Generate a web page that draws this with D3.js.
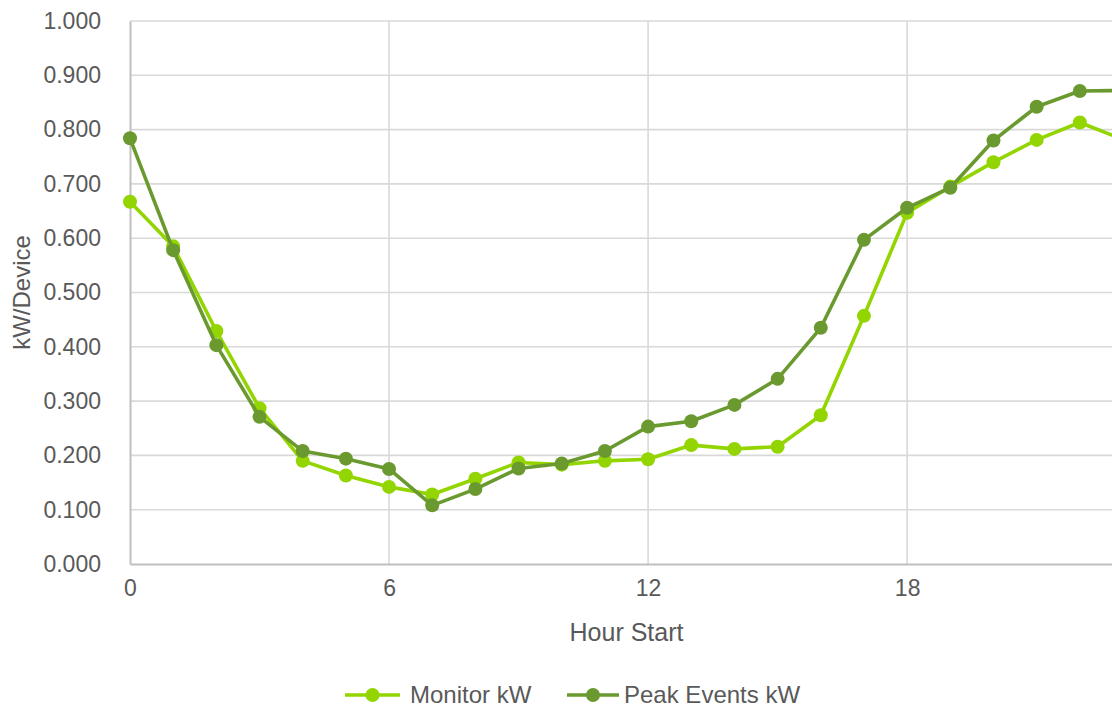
<!DOCTYPE html>
<html>
<head>
<meta charset="utf-8">
<script src="https://cdn.jsdelivr.net/npm/d3@7"></script>
<style>
  html, body { margin: 0; padding: 0; background: #fff; overflow: hidden; }
  svg { display: block; font-family: "Liberation Sans", Arial, sans-serif; }
</style>
</head>
<body>
<svg id="chart" width="1112" height="708"></svg>
<script>
// Hourly average demand per device (kW), hour start 0..23
const hours = d3.range(0, 24);
const monitorKW = [0.667, 0.585, 0.429, 0.287, 0.190, 0.163, 0.142, 0.128, 0.157, 0.187,
                   0.183, 0.190, 0.193, 0.219, 0.212, 0.216, 0.274, 0.457, 0.647, 0.695,
                   0.740, 0.781, 0.813, 0.782];
const peakEventsKW = [0.784, 0.578, 0.403, 0.271, 0.208, 0.194, 0.175, 0.108, 0.138, 0.176,
                      0.185, 0.208, 0.253, 0.263, 0.293, 0.341, 0.435, 0.597, 0.656, 0.693,
                      0.780, 0.842, 0.871, 0.872];
const xTickValues = [0, 6, 12, 18];
const yTickValues = d3.range(0, 1.0001, 0.1);
const seriesNames = ["Monitor kW", "Peak Events kW"];
const seriesColors = ["#93D500", "#6A9A2F"];

const svg = d3.select("#chart");
const plotLeft = 130, plotRight = 1123, plotTop = 21, plotBottom = 564;

const x = d3.scaleLinear().domain([0, 23]).range([plotLeft, plotRight]);
const y = d3.scaleLinear().domain([0, 1]).range([plotBottom, plotTop]);

const textColor = "#595959";

// horizontal gridlines
svg.append("g")
  .selectAll("line")
  .data(yTickValues.filter(v => v > 0.0001))
  .join("line")
  .attr("x1", plotLeft).attr("x2", plotRight)
  .attr("y1", d => y(d)).attr("y2", d => y(d))
  .attr("stroke", "#D9D9D9").attr("stroke-width", 1.6);

// vertical gridlines
svg.append("g")
  .selectAll("line")
  .data(xTickValues.filter(v => v > 0))
  .join("line")
  .attr("x1", d => x(d)).attr("x2", d => x(d))
  .attr("y1", plotTop).attr("y2", plotBottom)
  .attr("stroke", "#D9D9D9").attr("stroke-width", 1.6);

// y axis
const yAxis = svg.append("g")
  .attr("transform", `translate(${plotLeft},0)`)
  .call(d3.axisLeft(y).tickValues(yTickValues).tickFormat(d3.format(".3f")).tickSize(0).tickPadding(29));
yAxis.select(".domain").attr("stroke", "#BFBFBF").attr("stroke-width", 2);
yAxis.selectAll("text").attr("fill", textColor).attr("font-size", 23)
  .attr("font-family", "Liberation Sans, Arial, sans-serif");

// x axis
const xAxis = svg.append("g")
  .attr("transform", `translate(0,${plotBottom})`)
  .call(d3.axisBottom(x).tickValues(xTickValues).tickFormat(d3.format("d")).tickSize(0).tickPadding(16));
xAxis.select(".domain").attr("stroke", "#BFBFBF").attr("stroke-width", 2);
xAxis.selectAll("text").attr("fill", textColor).attr("font-size", 23)
  .attr("font-family", "Liberation Sans, Arial, sans-serif");

// axis titles
svg.append("text")
  .attr("x", (plotLeft + plotRight) / 2).attr("y", 641)
  .attr("text-anchor", "middle").attr("fill", textColor).attr("font-size", 25)
  .text("Hour Start");

svg.append("text")
  .attr("transform", `translate(30,${(plotTop + plotBottom) / 2}) rotate(-90)`)
  .attr("text-anchor", "middle").attr("fill", textColor).attr("font-size", 24)
  .text("kW/Device");

// series
const line = d3.line().x((d, i) => x(hours[i])).y(d => y(d));
[monitorKW, peakEventsKW].forEach((vals, k) => {
  const g = svg.append("g");
  g.append("path")
    .attr("d", line(vals))
    .attr("fill", "none")
    .attr("stroke", seriesColors[k])
    .attr("stroke-width", 3.6)
    .attr("stroke-linejoin", "round");
  g.selectAll("circle")
    .data(vals)
    .join("circle")
    .attr("cx", (d, i) => x(hours[i]))
    .attr("cy", d => y(d))
    .attr("r", 7)
    .attr("fill", seriesColors[k]);
});

// legend
const legendItems = [
  { name: seriesNames[0], color: seriesColors[0], x0: 345, x1: 400, tx: 410 },
  { name: seriesNames[1], color: seriesColors[1], x0: 567, x1: 619, tx: 624 }
];
const lg = svg.append("g");
legendItems.forEach(it => {
  lg.append("line")
    .attr("x1", it.x0).attr("x2", it.x1).attr("y1", 695).attr("y2", 695)
    .attr("stroke", it.color).attr("stroke-width", 3.6);
  lg.append("circle")
    .attr("cx", (it.x0 + it.x1) / 2).attr("cy", 695).attr("r", 7)
    .attr("fill", it.color);
  lg.append("text")
    .attr("x", it.tx).attr("y", 702.5)
    .attr("fill", textColor).attr("font-size", 24)
    .text(it.name);
});
</script>
</body>
</html>
